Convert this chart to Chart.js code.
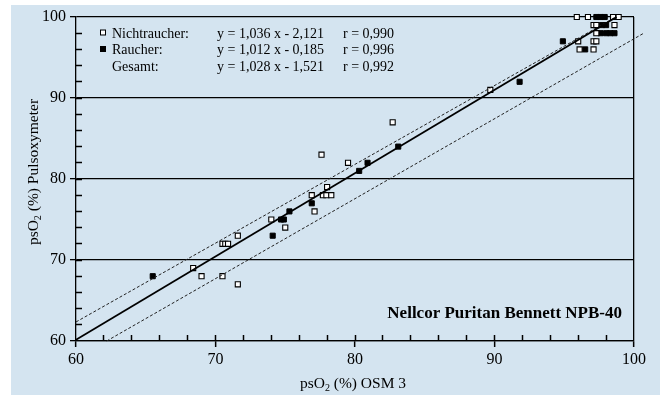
<!DOCTYPE html>
<html>
<head>
<meta charset="utf-8">
<script src="https://cdn.jsdelivr.net/npm/chart.js@4/dist/chart.umd.min.js"></script>
<style>
html,body{margin:0;padding:0;background:#fff;}
canvas{display:block;}
</style>
</head>
<body>
<canvas id="c" width="660" height="403"></canvas>
<script>
// ---- data ----
const xTickValues = [60, 70, 80, 90, 100];
const yTickValues = [60, 70, 80, 90, 100];
const minorTickValues = [62, 64, 66, 68, 70, 72, 74, 76, 78, 80, 82, 84, 86, 88, 90, 92, 94, 96, 98];

const nonSmokerX = [68.4, 69.0, 70.5, 71.6, 70.5, 70.7, 70.9, 71.6, 74.0, 75.0, 77.1, 76.9, 77.7, 77.95, 78.3, 78.0, 79.5, 77.6, 82.7, 89.7,
                    95.9, 96.7, 98.5, 98.9, 97.1, 97.3, 98.6, 97.3, 96.0, 97.1, 97.3, 96.1, 97.1];
const nonSmokerY = [69, 68, 68, 67, 72, 72, 72, 73, 75, 74, 76, 78, 78, 78, 78, 79, 82, 83, 87, 91,
                    100, 100, 100, 100, 99, 99, 99, 98, 97, 97, 97, 96, 96];

const smokerX = [65.5, 74.1, 74.7, 74.9, 75.3, 76.9, 80.3, 80.9, 83.1, 91.8, 94.9,
                 97.3, 97.6, 97.9, 97.7, 98.0, 97.6, 98.0, 98.3, 98.6, 96.5];
const smokerY = [68, 73, 75, 75, 76, 77, 81, 82, 84, 92, 97,
                 100, 100, 100, 99, 99, 98, 98, 98, 98, 96];

const fitLineX = [60, 98.75];
const fitLineY = [60.16, 100];
const upperBandX = [60, 98.7];
const upperBandY = [62.35, 100];
const lowerBandX = [62.2, 100.7];
const lowerBandY = [60, 98.0];

const legendRows = [
  {label: 'Nichtraucher:', eq: 'y = 1,036 x - 2,121', r: 'r = 0,990', marker: 'open'},
  {label: 'Raucher:',      eq: 'y = 1,012 x - 0,185', r: 'r = 0,996', marker: 'filled'},
  {label: 'Gesamt:',       eq: 'y = 1,028 x - 1,521', r: 'r = 0,992', marker: null}
];
const deviceLabel = 'Nellcor Puritan Bennett NPB-40';
const xTitle = ['psO', '2', ' (%) OSM 3'];
const yTitle = ['psO', '2', ' (%) Pulsoxymeter'];

const zip = (xs, ys) => xs.map((x, i) => ({x: x, y: ys[i]}));

const SERIF = '"Liberation Serif", "Times New Roman", serif';
const BG = '#d4e4f0';

const decor = {
  id: 'decor',
  beforeDraw(chart) {
    const c = chart.ctx;
    c.save();
    c.fillStyle = '#ffffff';
    c.fillRect(0, 0, chart.width, chart.height);
    c.fillStyle = BG;
    c.fillRect(11, 5, chart.width - 11, 390);
    c.restore();
  },
  afterDraw(chart) {
    const c = chart.ctx;
    const a = chart.chartArea;
    c.save();
    // legend block
    c.fillStyle = '#000';
    c.strokeStyle = '#000';
    c.font = '14px ' + SERIF;
    c.textBaseline = 'alphabetic';
    const baseY = [37.5, 54, 70.5];
    legendRows.forEach((row, i) => {
      const by = baseY[i];
      if (row.marker) {
        c.lineWidth = 1;
        if (row.marker === 'open') {
          c.fillStyle = '#fff';
          c.fillRect(101, by - 7, 4, 4);
          c.strokeRect(100.5, by - 7.5, 5, 5);
        } else {
          c.fillStyle = '#000';
          c.fillRect(100, by - 8, 6, 6);
        }
        c.fillStyle = '#000';
      }
      c.fillText(row.label, 112, by);
      c.fillText(row.eq, 217, by);
      c.fillText(row.r, 343, by);
    });

    // device label
    c.font = 'bold 17px ' + SERIF;
    c.textAlign = 'right';
    c.fillText(deviceLabel, 622, 318);

    // axis titles with subscript
    const drawSub = (parts, size) => {
      c.font = size + 'px ' + SERIF;
      const w0 = c.measureText(parts[0]).width;
      c.font = Math.round(size * 0.65) + 'px ' + SERIF;
      const w1 = c.measureText(parts[1]).width;
      c.font = size + 'px ' + SERIF;
      const w2 = c.measureText(parts[2]).width;
      const total = w0 + w1 + w2;
      let x = -total / 2;
      c.textAlign = 'left';
      c.font = size + 'px ' + SERIF;
      c.fillText(parts[0], x, 0); x += w0;
      c.font = Math.round(size * 0.65) + 'px ' + SERIF;
      c.fillText(parts[1], x, 3); x += w1;
      c.font = size + 'px ' + SERIF;
      c.fillText(parts[2], x, 0);
    };
    c.save();
    c.translate((a.left + a.right) / 2 - 2, 388);
    drawSub(xTitle, 15.5);
    c.restore();
    c.save();
    c.translate(38, 172);
    c.rotate(-Math.PI / 2);
    drawSub(yTitle, 15.5);
    c.restore();
    c.restore();
  }
};

new Chart(document.getElementById('c'), {
  type: 'scatter',
  data: {
    datasets: [
      {
        label: 'Gesamt',
        data: zip(fitLineX, fitLineY),
        showLine: true, borderColor: '#000', borderWidth: 1.8,
        pointRadius: 0, fill: false
      },
      {
        label: 'upper',
        data: zip(upperBandX, upperBandY),
        showLine: true, borderColor: '#222', borderWidth: 1, borderDash: [3, 2],
        pointRadius: 0, fill: false
      },
      {
        label: 'lower',
        data: zip(lowerBandX, lowerBandY),
        showLine: true, borderColor: '#222', borderWidth: 1, borderDash: [3, 2],
        pointRadius: 0, fill: false, clip: false
      },
      {
        label: 'Nichtraucher',
        data: zip(nonSmokerX, nonSmokerY),
        pointStyle: 'rect', pointRadius: 3.6,
        backgroundColor: '#ffffff', borderColor: '#000', borderWidth: 1.1,
        clip: false
      },
      {
        label: 'Raucher',
        data: zip(smokerX, smokerY),
        pointStyle: 'rect', pointRadius: 3.6,
        backgroundColor: '#000', borderColor: '#000', borderWidth: 1,
        clip: false
      }
    ]
  },
  options: {
    responsive: false,
    animation: false,
    events: [],
    layout: {padding: {left: 0, top: 17, right: 26, bottom: 0}},
    plugins: {legend: {display: false}, tooltip: {enabled: false}},
    scales: {
      x: {
        type: 'linear', min: 60, max: 100, position: 'bottom', weight: 1,
        afterBuildTicks(s) { s.ticks = xTickValues.map(v => ({value: v})); },
        afterFit(s) { s.height = 62; },
        grid: {
          drawOnChartArea: true, drawTicks: true, tickLength: 6,
          color: ctx => (ctx.tick && ctx.tick.value === 100) ? '#000' : 'rgba(0,0,0,0)',
          tickColor: '#000', tickWidth: 1.5, lineWidth: 1.3
        },
        border: {display: true, color: '#000', width: 1.3},
        ticks: {color: '#000', font: {family: SERIF, size: 16}, padding: 3, maxRotation: 0, autoSkip: false}
      },
      xMinor: {
        type: 'linear', min: 60, max: 100, position: 'bottom', weight: 0,
        afterBuildTicks(s) { s.ticks = minorTickValues.map(v => ({value: v})); },
        afterFit(s) { s.height = 0; },
        grid: {
          drawOnChartArea: false, drawTicks: true, tickLength: -6,
          color: '#000', tickColor: '#000', tickWidth: 1.5
        },
        border: {display: false},
        ticks: {display: false}
      },
      y: {
        type: 'linear', min: 60, max: 100, position: 'left', weight: 1,
        afterBuildTicks(s) { s.ticks = yTickValues.map(v => ({value: v})); },
        afterFit(s) { s.width = 76; },
        grid: {
          drawOnChartArea: true, drawTicks: true, tickLength: 6,
          color: '#000', tickColor: '#000', lineWidth: 1.3
        },
        border: {display: true, color: '#000', width: 1.3},
        ticks: {color: '#000', font: {family: SERIF, size: 16}, padding: 4, autoSkip: false}
      },
      yMinor: {
        type: 'linear', min: 60, max: 100, position: 'left', weight: 0,
        afterBuildTicks(s) { s.ticks = minorTickValues.map(v => ({value: v})); },
        afterFit(s) { s.width = 0; },
        grid: {
          drawOnChartArea: false, drawTicks: true, tickLength: -6,
          color: '#000', tickColor: '#000', tickWidth: 1.5
        },
        border: {display: false},
        ticks: {display: false}
      }
    }
  },
  plugins: [decor]
});
</script>
</body>
</html>
